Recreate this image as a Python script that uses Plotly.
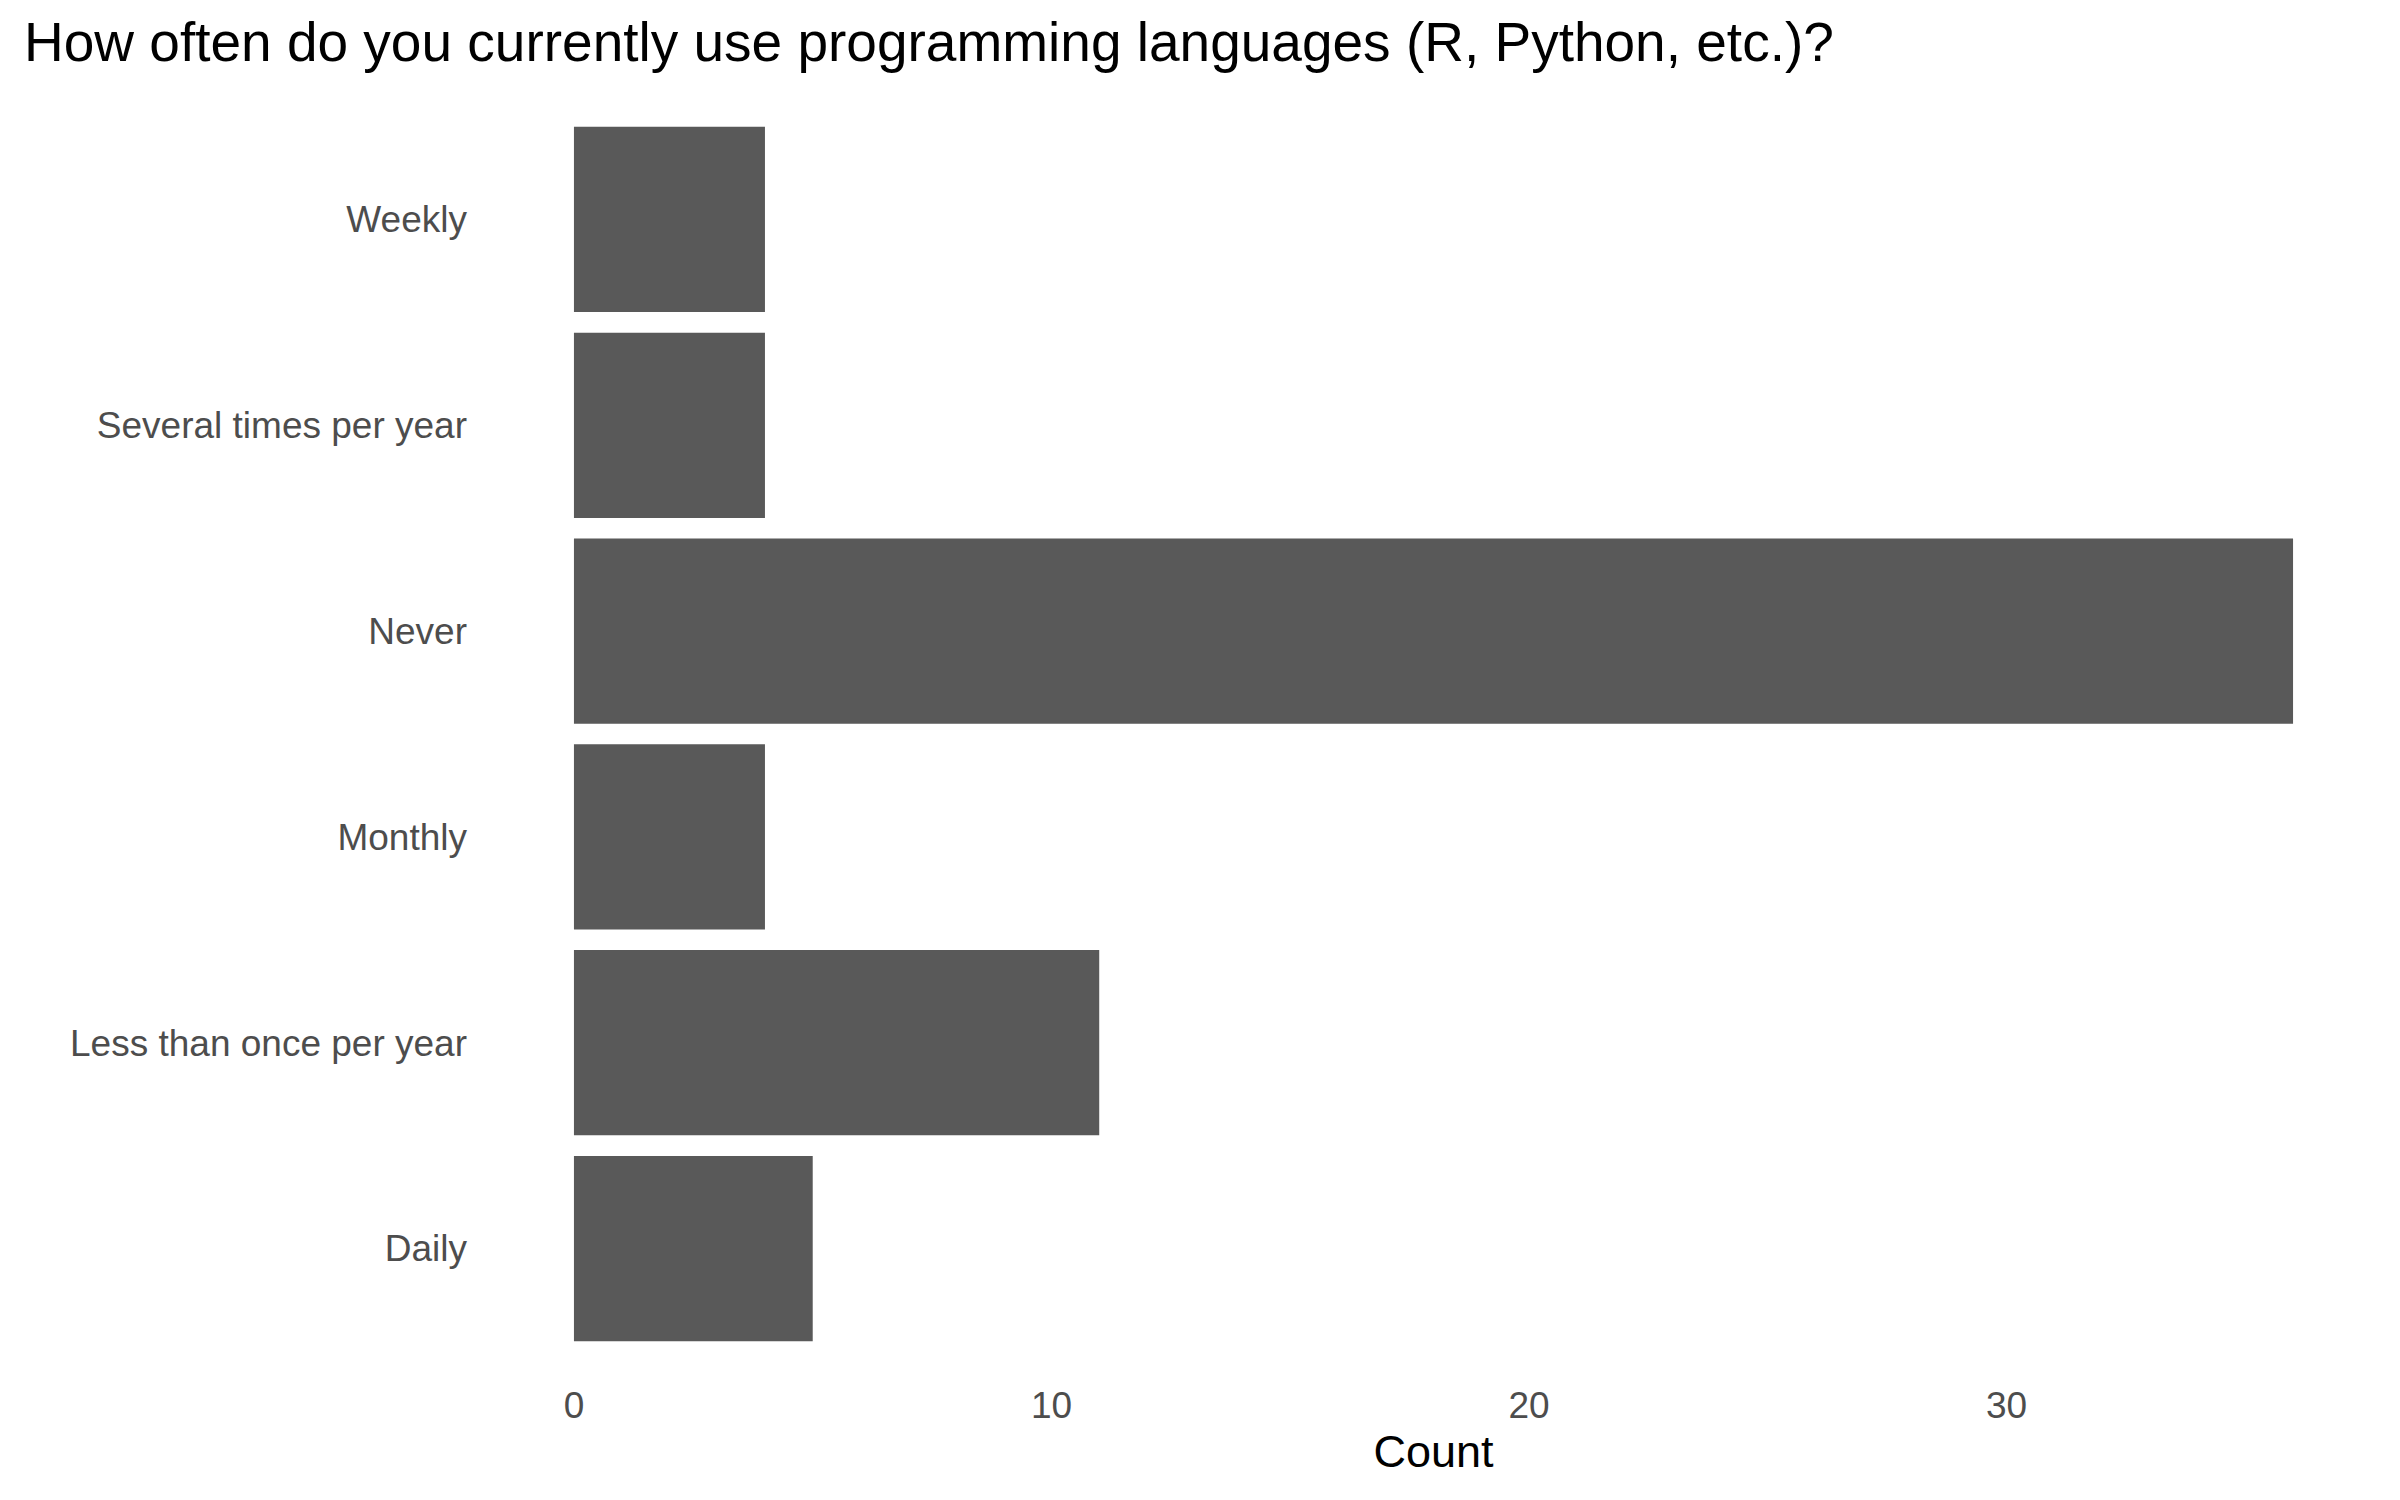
import plotly.graph_objects as go

categories = ["Daily", "Less than once per year", "Monthly", "Never", "Several times per year", "Weekly"]
counts = [5, 11, 4, 36, 4, 4]
x_ticks = [0, 10, 20, 30]

title_text = "How often do you currently use programming languages (R, Python, etc.)?"

fig = go.Figure(go.Bar(
    x=counts, y=categories, orientation="h",
    marker=dict(color="#595959", line=dict(width=0)),
    width=0.9,
))

xmax = max(counts)
fig.update_layout(
    width=2400, height=1500,
    paper_bgcolor="white", plot_bgcolor="white",
    font=dict(family="Liberation Sans, Arial, sans-serif"),
    margin=dict(l=480, r=29, t=88, b=136),
    title=dict(text=title_text, x=16/2400, xanchor="left", xref="container",
               y=1 - 34/1500, yanchor="middle", yref="container",
               font=dict(size=55, color="black")),
    showlegend=False,
)
fig.update_xaxes(range=[-0.05 * xmax, xmax * 1.05], tickvals=x_ticks,
                 showgrid=False, zeroline=False, showline=False, ticks="",
                 tickfont=dict(size=37, color="#4D4D4D"), ticklabelstandoff=8,
                 title=dict(text="Count", font=dict(size=45, color="black"), standoff=10))
fig.update_yaxes(categoryorder="array", categoryarray=categories, range=[-0.6, 5.6],
                 showgrid=False, zeroline=False, showline=False, ticks="",
                 tickfont=dict(size=37, color="#4D4D4D"), ticklabelstandoff=20)

fig.write_html("out.html")
